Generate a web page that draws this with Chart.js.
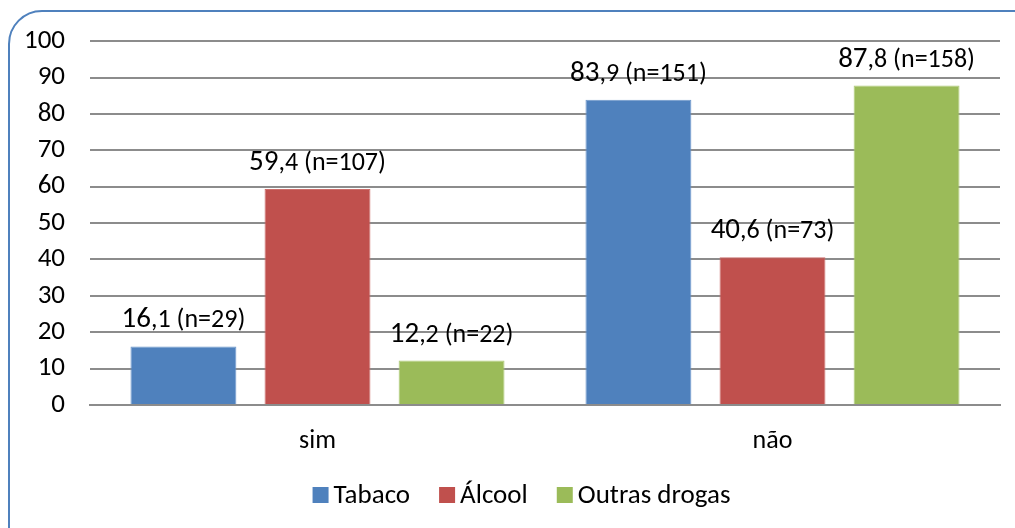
<!DOCTYPE html>
<html>
<head>
<meta charset="utf-8">
<script src="https://cdn.jsdelivr.net/npm/chart.js@4"></script>
<style>
  html, body { margin: 0; padding: 0; width: 1015px; height: 528px; overflow: hidden; background: #fff; }
  #frame { position: absolute; left: 8px; top: 10px; width: 1040px; height: 560px; border: 2px solid #4F81BD; border-radius: 34px; box-sizing: border-box; }
  #wrap { position: absolute; left: 0; top: 0; width: 1015px; height: 528px; }
</style>
</head>
<body>
<div id="frame"></div>
<div id="wrap"><canvas id="c" width="1015" height="528"></canvas></div>
<script>
const categories = ['sim', 'não'];
const seriesNames = ['Tabaco', 'Álcool', 'Outras drogas'];
const tabaco = [16.1, 83.9];
const alcool = [59.4, 40.6];
const outras = [12.2, 87.8];
const nTabaco = [29, 151];
const nAlcool = [107, 73];
const nOutras = [22, 158];
const yTicks = [0, 10, 20, 30, 40, 50, 60, 70, 80, 90, 100];

const FONT = 'Carlito, Calibri, Lato, sans-serif';
const counts = [nTabaco, nAlcool, nOutras];

const labelPlugin = {
  id: 'valueLabels',
  afterDatasetsDraw(chart) {
    const ctx = chart.ctx;
    ctx.save();
    ctx.fillStyle = '#000';
    ctx.textBaseline = 'alphabetic';
    chart.data.datasets.forEach((ds, di) => {
      const meta = chart.getDatasetMeta(di);
      meta.data.forEach((bar, i) => {
        const v = ds.data[i];
        const parts = v.toFixed(1).split('.');
        const big = parts[0];
        const small = ',' + parts[1] + ' (n=' + counts[di][i] + ')';
        ctx.font = '29px ' + FONT;
        const wb = ctx.measureText(big).width;
        ctx.font = '26px ' + FONT;
        const ws = ctx.measureText(small).width;
        const x0 = bar.x - (wb + ws) / 2;
        const y = bar.y - 19;
        ctx.font = '29px ' + FONT;
        ctx.fillText(big, x0, y);
        ctx.font = '26px ' + FONT;
        ctx.fillText(small, x0 + wb, y);
      });
    });
    ctx.restore();
  }
};

const legendPlugin = {
  id: 'customLegend',
  afterDraw(chart) {
    const ctx = chart.ctx;
    ctx.save();
    ctx.font = '27px ' + FONT;
    ctx.textBaseline = 'middle';
    const box = 16, gapText = 5, gapItem = 29;
    const items = chart.data.datasets.map(ds => ({ label: ds.label, color: ds.backgroundColor, w: ctx.measureText(ds.label).width }));
    const total = items.reduce((s, it) => s + box + gapText + it.w, 0) + gapItem * (items.length - 1);
    let x = (chart.width - total) / 2 + 14;
    const cy = 495;
    items.forEach(it => {
      ctx.fillStyle = it.color;
      ctx.fillRect(x, cy - box / 2, box, box);
      x += box + gapText;
      ctx.fillStyle = '#000';
      ctx.fillText(it.label, x, cy + 1);
      x += it.w + gapItem;
    });
    ctx.restore();
  }
};

new Chart(document.getElementById('c'), {
  type: 'bar',
  data: {
    labels: categories,
    datasets: [
      { label: seriesNames[0], data: tabaco, backgroundColor: '#4F81BD', borderColor: '#6E98CC', borderWidth: 1 },
      { label: seriesNames[1], data: alcool, backgroundColor: '#C0504D', borderColor: '#CC6F6C', borderWidth: 1 },
      { label: seriesNames[2], data: outras, backgroundColor: '#9BBB59', borderColor: '#B0CB7A', borderWidth: 1 }
    ]
  },
  options: {
    responsive: false,
    animation: false,
    devicePixelRatio: 1,
    layout: { padding: { top: 40, right: 15, left: 0, bottom: 59 } },
    datasets: { bar: { barPercentage: 0.79, categoryPercentage: 0.884 } },
    plugins: {
      legend: { display: false },
      tooltip: { enabled: false }
    },
    scales: {
      x: {
        grid: { display: false, drawTicks: false },
        border: { display: true, color: '#8C8C8C', width: 2 },
        ticks: { font: { family: FONT, size: 26 }, color: '#000', padding: 21 },
        afterFit(scale) { scale.height = 64; }
      },
      y: {
        min: 0, max: 100,
        afterBuildTicks(scale) { scale.ticks = yTicks.map(v => ({ value: v })); },
        grid: { color: '#8C8C8C', lineWidth: 2, drawTicks: false },
        border: { display: false },
        ticks: { font: { family: FONT, size: 27 }, color: '#000', padding: 25 },
        afterFit(scale) { scale.width = 90; }
      }
    }
  },
  plugins: [labelPlugin, legendPlugin]
});
</script>
</body>
</html>
